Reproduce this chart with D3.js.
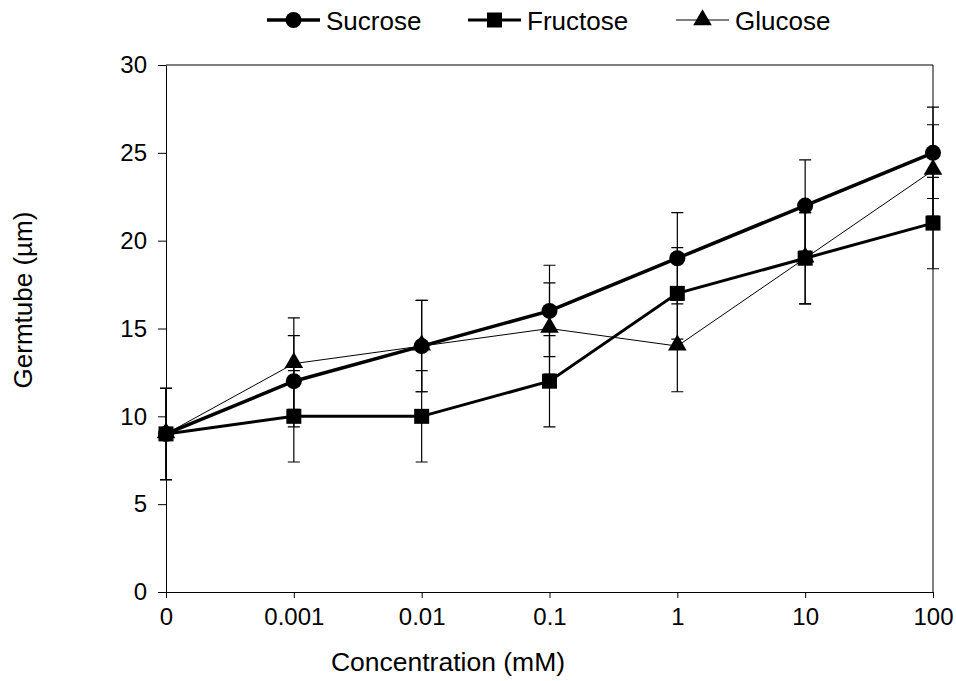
<!DOCTYPE html>
<html>
<head>
<meta charset="utf-8">
<script src="https://cdn.jsdelivr.net/npm/d3@7"></script>
<style>
  html, body { margin: 0; padding: 0; background: #fff; }
  svg text { font-family: "Liberation Sans", Arial, sans-serif; fill: #000; }
</style>
</head>
<body>
<svg id="chart" width="956" height="681"></svg>
<script>
// Germ tube length against sugar concentration
const concentrations = ["0", "0.001", "0.01", "0.1", "1", "10", "100"];
const sucrose  = [9, 12, 14, 16, 19, 22, 25];
const fructose = [9, 10, 10, 12, 17, 19, 21];
const glucose  = [9, 13, 14, 15, 14, 19, 24];
const sucroseErr  = [2.6, 2.6, 2.6, 2.6, 2.6, 2.6, 2.6];
const fructoseErr = [2.6, 2.6, 2.6, 2.6, 2.6, 2.6, 2.6];
const glucoseErr  = [2.6, 2.6, 2.6, 2.6, 2.6, 2.6, 2.6];
const yTicks = [0, 5, 10, 15, 20, 25, 30];

const series = [
  { name: "Sucrose",  values: sucrose,  err: sucroseErr,  width: 3.5, marker: "circle" },
  { name: "Fructose", values: fructose, err: fructoseErr, width: 3,   marker: "square" },
  { name: "Glucose",  values: glucose,  err: glucoseErr,  width: 1,   marker: "triangle" }
];

const svg = d3.select("#chart");
const plotLeft = 166, plotRight = 933, plotTop = 65, plotBottom = 592;

const x = d3.scalePoint().domain(concentrations).range([plotLeft, plotRight]);
const y = d3.scaleLinear().domain([0, 30]).range([plotBottom, plotTop]);

// frame (top and right edges)
svg.append("path")
  .attr("d", `M${plotLeft},${plotTop}H${plotRight}V${plotBottom}`)
  .attr("fill", "none").attr("stroke", "#000").attr("stroke-width", 1);

// y axis
const yAxis = svg.append("g")
  .attr("transform", `translate(${plotLeft},0)`)
  .call(d3.axisLeft(y).tickValues(yTicks).tickSize(8).tickPadding(11).tickSizeOuter(0));
yAxis.selectAll("text").style("font-size", "24px");

// x axis
const xAxis = svg.append("g")
  .attr("transform", `translate(0,${plotBottom})`)
  .call(d3.axisBottom(x).tickSize(6).tickPadding(10).tickSizeOuter(0));
xAxis.selectAll("text").style("font-size", "24px");

svg.selectAll(".domain, .tick line").attr("stroke", "#000").attr("stroke-width", 1);

// axis titles
svg.append("text")
  .attr("x", 448).attr("y", 671)
  .attr("text-anchor", "middle")
  .style("font-size", "26.5px")
  .text("Concentration (mM)");

svg.append("text")
  .attr("transform", "translate(32,300) rotate(-90)")
  .attr("text-anchor", "middle")
  .style("font-size", "26px")
  .text("Germtube (µm)");

const symbolFor = {
  circle: d3.symbol().type(d3.symbolCircle).size(Math.PI * 8 * 8),
  square: d3.symbol().type(d3.symbolSquare).size(15 * 15),
  triangle: d3.symbol().type(d3.symbolTriangle).size(150)
};

const line = d3.line().x((d, i) => x(concentrations[i])).y(d => y(d));
const cap = 6;

series.forEach(s => {
  const g = svg.append("g");
  // error bars
  s.values.forEach((v, i) => {
    const cx = x(concentrations[i]);
    const y0 = y(v - s.err[i]), y1 = y(v + s.err[i]);
    g.append("path")
      .attr("d", `M${cx},${y0}V${y1}M${cx - cap},${y0}H${cx + cap}M${cx - cap},${y1}H${cx + cap}`)
      .attr("stroke", "#000").attr("stroke-width", 1.2).attr("fill", "none");
  });
  // connecting line
  g.append("path")
    .datum(s.values)
    .attr("d", line)
    .attr("fill", "none").attr("stroke", "#000").attr("stroke-width", s.width);
  // markers
  g.selectAll(".m")
    .data(s.values)
    .join("path")
    .attr("transform", (d, i) => `translate(${x(concentrations[i])},${y(d) + (s.marker === "triangle" ? -1 : 0)})`)
    .attr("d", symbolFor[s.marker]())
    .attr("fill", "#000");
});

// legend
const legendItems = [
  { s: series[0], x0: 267 },
  { s: series[1], x0: 468 },
  { s: series[2], x0: 676 }
];
legendItems.forEach(({ s, x0 }) => {
  const g = svg.append("g").attr("transform", `translate(${x0},20)`);
  g.append("line").attr("x1", 0).attr("x2", 53).attr("y1", 0).attr("y2", 0)
    .attr("stroke", "#000").attr("stroke-width", s.width);
  g.append("path").attr("transform", "translate(26.5,0)").attr("d", symbolFor[s.marker]()).attr("fill", "#000");
  g.append("text").attr("x", 59).attr("y", 9.5).style("font-size", "26px").text(s.name);
});
</script>
</body>
</html>
